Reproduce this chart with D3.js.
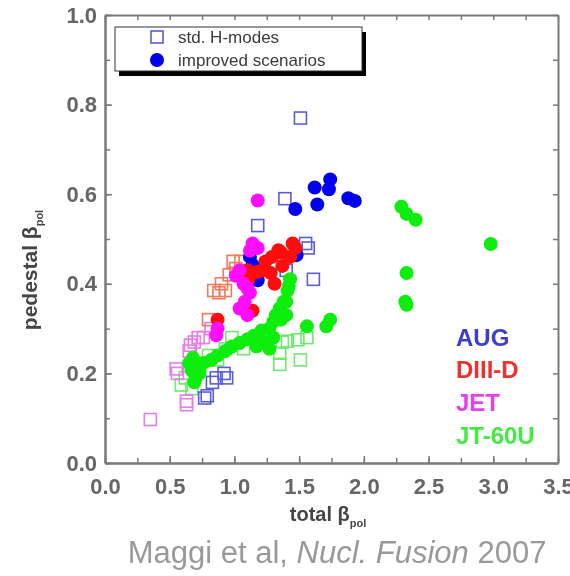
<!DOCTYPE html>
<html>
<head>
<meta charset="utf-8">
<script src="https://cdn.jsdelivr.net/npm/d3@7"></script>
<style>
  html, body { margin: 0; padding: 0; background: #fff; }
  svg { display: block; font-family: "Liberation Sans", Arial, sans-serif; }
</style>
</head>
<body>
<svg id="chart" width="570" height="576"></svg>
<script>
// ---------- data ----------
const xTicks = [0.0, 0.5, 1.0, 1.5, 2.0, 2.5, 3.0, 3.5];
const yTicks = [0.0, 0.2, 0.4, 0.6, 0.8, 1.0];
const deviceNames = ["AUG", "DIII-D", "JET", "JT-60U"];
const legendLabels = ["std. H-modes", "improved scenarios"];
const xTitle = "total β";
const yTitle = "pedestal β";
const titleSub = "pol";

// [total beta_pol, pedestal beta_pol]
const augStd = [[1.51,0.77],[1.39,0.59],[1.18,0.53],[1.55,0.49],[1.57,0.48],[1.61,0.41],[1.40,0.43],
  [0.92,0.20],[0.83,0.18],[0.79,0.15],[0.86,0.19],[0.94,0.19],[0.77,0.145]];
const augImp = [[1.47,0.567],[1.64,0.577],[1.62,0.615],[1.73,0.611],[1.74,0.633],[1.88,0.591],[1.93,0.585],
  [1.14,0.442],[1.18,0.408],[1.48,0.464],[1.12,0.46]];
const diiidStd = [[0.84,0.385],[0.93,0.385],[0.90,0.40],[0.96,0.42],[1.01,0.434],[1.05,0.45],[0.80,0.32],
  [0.88,0.38],[0.99,0.45]];
const diiidImp = [[1.45,0.49],[1.47,0.48],[1.34,0.475],[1.29,0.46],[1.24,0.45],[1.28,0.424],[1.31,0.40],
  [1.18,0.427],[1.11,0.41],[1.14,0.34],[0.87,0.32],[1.43,0.46],[1.37,0.44],[1.36,0.47],[1.22,0.43],[1.10,0.43]];
const jetStd = [[0.35,0.097],[0.63,0.138],[0.56,0.20],[0.55,0.21],[0.69,0.27],[0.65,0.25],[0.76,0.28],
  [0.82,0.30],[0.66,0.263],[0.72,0.28],[0.63,0.13]];
const jetImp = [[1.18,0.586],[1.12,0.474],[1.18,0.48],[1.01,0.418],[1.04,0.43],[1.10,0.39],[1.12,0.38],
  [1.04,0.345],[1.10,0.33],[1.08,0.36],[0.87,0.30],[0.86,0.285],[1.14,0.49],[1.07,0.40]];
const jt60Std = [[1.37,0.27],[1.41,0.272],[1.35,0.245],[1.35,0.22],[1.51,0.23],[1.49,0.275],[1.56,0.28],
  [0.98,0.28],[0.93,0.255],[0.87,0.23],[0.59,0.174],[0.67,0.166],[0.73,0.215],[1.07,0.255],[0.62,0.19],[0.80,0.24]];
const jt60Imp = [[2.29,0.572],[2.33,0.556],[2.40,0.543],[2.98,0.489],[2.33,0.424],[2.33,0.353],[2.32,0.36],
  [1.56,0.305],[1.71,0.305],[1.74,0.32],
  [1.43,0.41],[1.42,0.395],[1.41,0.385],[1.38,0.36],[1.35,0.345],[1.32,0.33],[1.30,0.315],[1.27,0.30],
  [1.21,0.296],[1.15,0.284],[1.10,0.276],[1.04,0.268],[0.98,0.26],[0.93,0.25],[0.87,0.24],[0.82,0.23],
  [0.76,0.223],[0.72,0.215],[0.70,0.19],[0.67,0.207],[0.65,0.223],[0.68,0.235],[1.36,0.32],[1.40,0.33],
  [1.27,0.255],[1.22,0.27],[1.17,0.26],[1.30,0.28],[1.40,0.36],[0.73,0.20],[0.69,0.18]];

// ---------- styles ----------
const stdColors = { "AUG": "#5c5cd8", "DIII-D": "#f07a5a", "JET": "#e87ce8", "JT-60U": "#6ee86e" };
const impColors = { "AUG": "#0000ee", "DIII-D": "#ff0a0a", "JET": "#ff10ff", "JT-60U": "#10ee10" };
const labelColors = { "AUG": "#3c3cd0", "DIII-D": "#ee3030", "JET": "#e840e8", "JT-60U": "#40ec40" };

const svg = d3.select("#chart");
const m = { left: 105, top: 15, right: 558, bottom: 463 };

const defs = svg.append("defs");
defs.append("filter").attr("id", "soft").attr("x", "-20%").attr("y", "-20%").attr("width", "140%").attr("height", "140%")
  .append("feGaussianBlur").attr("stdDeviation", 0.7);

const x = d3.scaleLinear().domain([0, 3.5]).range([m.left, m.right]);
const y = d3.scaleLinear().domain([0, 1]).range([m.bottom, m.top]);

const root = svg.append("g").attr("filter", "url(#soft)");

// ---------- axes ----------
const axisColor = "#7a7a7a";
const minorX = d3.range(0, 3.5001, 0.25);
const minorY = d3.range(0, 1.0001, 0.1);

function styleAxis(g) {
  g.selectAll(".domain").attr("stroke", axisColor).attr("stroke-width", 2);
  g.selectAll(".tick line").attr("stroke", axisColor).attr("stroke-width", 1.5);
  g.selectAll(".tick text").attr("fill", "#666").attr("font-size", 22).attr("font-weight", "bold");
}

// minor ticks (all four sides)
root.append("g").attr("transform", `translate(0,${m.bottom})`)
  .call(d3.axisBottom(x).tickValues(minorX).tickSize(-5).tickSizeOuter(0).tickFormat(""))
  .call(styleAxis);
root.append("g").attr("transform", `translate(0,${m.top})`)
  .call(d3.axisTop(x).tickValues(minorX).tickSize(-5).tickSizeOuter(0).tickFormat(""))
  .call(styleAxis);
root.append("g").attr("transform", `translate(${m.left},0)`)
  .call(d3.axisLeft(y).tickValues(minorY).tickSize(-5).tickSizeOuter(0).tickFormat(""))
  .call(styleAxis);
root.append("g").attr("transform", `translate(${m.right},0)`)
  .call(d3.axisRight(y).tickValues(minorY).tickSize(-5).tickSizeOuter(0).tickFormat(""))
  .call(styleAxis);

// major ticks with labels
root.append("g").attr("transform", `translate(0,${m.bottom})`)
  .call(d3.axisBottom(x).tickValues(xTicks).tickSize(-7).tickSizeOuter(0).tickPadding(15).tickFormat(d3.format(".1f")))
  .call(styleAxis);
root.append("g").attr("transform", `translate(${m.left},0)`)
  .call(d3.axisLeft(y).tickValues(yTicks).tickSize(-7).tickSizeOuter(0).tickPadding(8).tickFormat(d3.format(".1f")))
  .call(styleAxis);

// ---------- markers ----------
const sq = 12, r = 7;
function drawStd(data, name) {
  root.append("g").selectAll("rect").data(data).join("rect")
    .attr("x", d => x(d[0]) - sq / 2).attr("y", d => y(d[1]) - sq / 2)
    .attr("width", sq).attr("height", sq)
    .attr("fill", "none").attr("stroke", stdColors[name]).attr("stroke-width", 1.6);
}
function drawImp(data, name) {
  root.append("g").selectAll("circle").data(data).join("circle")
    .attr("cx", d => x(d[0])).attr("cy", d => y(d[1])).attr("r", r)
    .attr("fill", impColors[name]);
}
drawStd(jt60Std, "JT-60U");
drawStd(jetStd, "JET");
drawStd(diiidStd, "DIII-D");
drawStd(augStd, "AUG");
drawImp(jt60Imp, "JT-60U");
drawImp(augImp, "AUG");
drawImp(diiidImp, "DIII-D");
drawImp(jetImp, "JET");

// ---------- device labels ----------
root.append("g").selectAll("text").data(deviceNames).join("text")
  .attr("x", 456).attr("y", (d, i) => 337 + i * 32.7)
  .attr("dominant-baseline", "central")
  .attr("font-size", 24).attr("font-weight", "bold")
  .attr("fill", d => labelColors[d])
  .text(d => d);

// ---------- legend ----------
const lg = root.append("g");
lg.append("rect").attr("x", 119).attr("y", 32).attr("width", 247).attr("height", 44).attr("fill", "#000");
lg.append("rect").attr("x", 115).attr("y", 27).attr("width", 247).attr("height", 44)
  .attr("fill", "#fff").attr("stroke", "#333").attr("stroke-width", 1);
lg.append("rect").attr("x", 157 - sq / 2).attr("y", 37 - sq / 2).attr("width", sq).attr("height", sq)
  .attr("fill", "none").attr("stroke", stdColors["AUG"]).attr("stroke-width", 1.6);
lg.append("circle").attr("cx", 157).attr("cy", 60).attr("r", r).attr("fill", impColors["AUG"]);
lg.selectAll("text").data(legendLabels).join("text")
  .attr("x", 178).attr("y", (d, i) => 37 + i * 23)
  .attr("dominant-baseline", "central")
  .attr("font-size", 17).attr("fill", "#3a3a3a")
  .text(d => d);

// ---------- axis titles ----------
const xt = root.append("text").attr("x", 328).attr("y", 521).attr("text-anchor", "middle")
  .attr("font-size", 20).attr("font-weight", "bold").attr("fill", "#444");
xt.append("tspan").text(xTitle);
xt.append("tspan").attr("font-size", 11).attr("dy", 6).text(titleSub);

const yt = root.append("text").attr("transform", "translate(37,270) rotate(-90)").attr("text-anchor", "middle")
  .attr("font-size", 21).attr("font-weight", "bold").attr("fill", "#444");
yt.append("tspan").text(yTitle);
yt.append("tspan").attr("font-size", 11).attr("dy", 6).text(titleSub);

// ---------- citation ----------
const cite = root.append("text").attr("x", 337).attr("y", 563).attr("text-anchor", "middle")
  .attr("font-size", 31).attr("fill", "#999");
cite.append("tspan").text("Maggi et al, ");
cite.append("tspan").attr("font-style", "italic").text("Nucl. Fusion");
cite.append("tspan").text(" 2007");
</script>
</body>
</html>
